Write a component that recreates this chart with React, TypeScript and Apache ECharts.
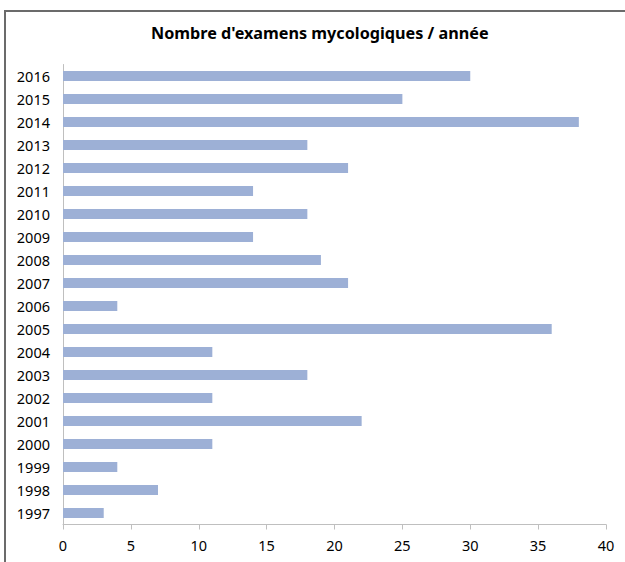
import React, { useEffect, useRef } from "react";
import * as echarts from "echarts";

const years = ["1997","1998","1999","2000","2001","2002","2003","2004","2005","2006","2007","2008","2009","2010","2011","2012","2013","2014","2015","2016"];
const counts = [3, 7, 4, 11, 22, 11, 18, 11, 36, 4, 21, 19, 14, 18, 14, 21, 18, 38, 25, 30];
const titleText = "Nombre d'examens mycologiques / année";

export default function App() {
  const ref = useRef<HTMLDivElement>(null);
  useEffect(() => {
    document.body.style.margin = "0";
    const chart = echarts.init(ref.current!, null, { renderer: "svg" });
    chart.setOption({
      animation: false,
      backgroundColor: "#ffffff",
      title: {
        text: titleText,
        left: 151,
        top: 25,
        padding: 0,
        textStyle: { fontFamily: "Noto Sans", fontWeight: "bold", fontSize: 16.2, color: "#000" },
      },
      graphic: [
        {
          type: "rect",
          shape: { x: 5, y: 11, width: 800, height: 800 },
          style: { fill: "none", stroke: "#6b6b6b", lineWidth: 2 },
          silent: true,
        },
      ],
      grid: { left: 63, right: 19, top: 64.5, bottom: 37.5, containLabel: false },
      xAxis: {
        type: "value",
        min: 0,
        max: 40,
        interval: 5,
        splitLine: { show: false },
        axisLine: { show: true, lineStyle: { color: "#bfbfbf", width: 1 } },
        axisTick: { show: true, length: 5, lineStyle: { color: "#bfbfbf" } },
        axisLabel: { margin: 13, fontFamily: "Noto Sans", fontSize: 14.5, color: "#000" },
      },
      yAxis: {
        type: "category",
        data: years,
        axisLine: { show: true, lineStyle: { color: "#bfbfbf", width: 1 } },
        axisTick: { show: false },
        axisLabel: { margin: 13, fontFamily: "Noto Sans", fontSize: 14.5, color: "#000" },
      },
      series: [
        {
          type: "bar",
          data: counts,
          barWidth: 10,
          itemStyle: { color: "#9db0d6" },
        },
      ],
    });
    return () => chart.dispose();
  }, []);
  return <div ref={ref} style={{ width: 625, height: 562 }} />;
}
